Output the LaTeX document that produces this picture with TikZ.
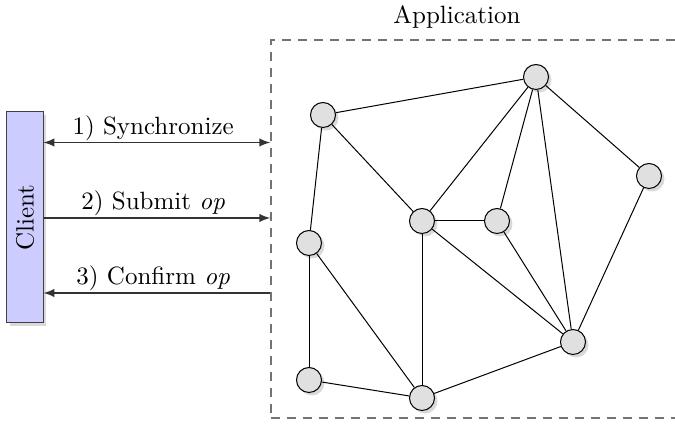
\documentclass[tikz,border=0pt]{standalone}
\usepackage{graphicx}
\usetikzlibrary{arrows, shadows, calc}
\usetikzlibrary{positioning}

\begin{document}
\begin{tikzpicture}[x=0.4pt, y=-0.4pt, >=latex,
    peer/.style={circle, draw, fill=black!12, minimum size=10pt, inner sep=0pt,
        drop shadow={shadow xshift=1.2pt, shadow yshift=-1.2pt, opacity=0.3}},
    msg/.style={draw=black!80, line width=0.5pt},
    msglabel/.style={above, inner sep=0.6pt}]
    \useasboundingbox (0,0) rectangle (675,424);
    \node[draw, dash pattern=on 3.6pt off 2.8pt, draw=black!55, line width=0.6pt, minimum width=171.6pt, minimum height=151.2pt] at (485.5,229) (app) {};
    \node at (457,17) (apptitle) {Application};
    \node[draw=black!75, fill=blue!20, minimum width=14.4pt, minimum height=84.4pt, inner sep=0pt,
        drop shadow={shadow xshift=1.2pt, shadow yshift=-1.2pt, opacity=0.3}] at (25,217.5) (client) {\rotatebox{90}{Client}};
	\coordinate (s1) at ([yshift=30pt]client.east);
	\coordinate (s2) at ([yshift=-0.2pt]client.east);
	\coordinate (s3) at ([yshift=-30.2pt]client.east);
	\draw[msg, <->] (s1) -- (s1 -| app.west) node[midway, msglabel, xshift=-1.5pt] {1) Synchronize};
	\draw[msg, ->] (s2) -- (s2 -| app.west) node[midway, msglabel, xshift=-1.5pt] {2) Submit \emph{op}};
	\draw[msg, ->] (s3 -| app.west) -- (s3) node[midway, msglabel, xshift=-1.5pt] {3) Confirm \emph{op}};
    \node[peer] at (323,115) (p1) {};
    \node[peer] at (536,77) (p2) {};
    \node[peer] at (649,176) (p3) {};
    \node[peer] at (422,221) (p4) {};
    \node[peer] at (497,221) (p5) {};
    \node[peer] at (309,243) (p6) {};
    \node[peer] at (573,342) (p7) {};
    \node[peer] at (309,380) (p8) {};
    \node[peer] at (422,398) (p9) {};
	\draw (p1) -- (p2);
	\draw (p1) -- (p6);
	\draw (p1) -- (p4);
	\draw (p2) -- (p4);
	\draw (p2) -- (p5);
	\draw (p2) -- (p7);
	\draw (p2) -- (p3);
	\draw (p3) -- (p7);
	\draw (p4) -- (p5);
	\draw (p4) -- (p9);
	\draw (p4) -- (p7);
	\draw (p5) -- (p7);
	\draw (p6) -- (p8);
	\draw (p6) -- (p9);
	\draw (p8) -- (p9);
	\draw (p9) -- (p7);
    \end{tikzpicture}
\end{document}
